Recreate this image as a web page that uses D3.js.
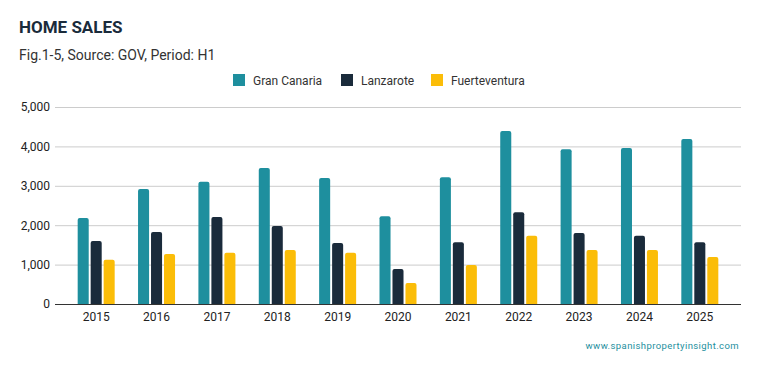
<!DOCTYPE html>
<html><head><meta charset="utf-8">
<script src="https://cdn.jsdelivr.net/npm/d3@7"></script>
<style>body{margin:0;background:#fff;}svg{display:block;font-family:Roboto,"Noto Sans",sans-serif;}</style>
</head><body>
<svg id="c" width="759" height="371"></svg>
<script>
const years = ["2015","2016","2017","2018","2019","2020","2021","2022","2023","2024","2025"];
const seriesNames = ["Gran Canaria","Lanzarote","Fuerteventura"];
const granCanaria = [2180,2920,3100,3450,3200,2230,3220,4390,3930,3960,4190];
const lanzarote = [1600,1830,2210,1980,1550,890,1570,2330,1800,1730,1570];
const fuerteventura = [1120,1270,1300,1370,1300,530,990,1730,1370,1370,1190];
const yTicks = [0,1000,2000,3000,4000,5000];
const colors = ["#1e8f9e","#1a2b3b","#fbbd08"];

(function(){
const seriesData = [granCanaria, lanzarote, fuerteventura];
const svg = d3.select("#c");
const pL = 55, pR = 741, pT = 107, pB = 304;

const x0 = d3.scaleBand().domain(years).range([66, 730]).paddingInner(0).paddingOuter(0);
const x1 = d3.scaleBand().domain(seriesNames).range([x0.bandwidth()/2 - 18.5, x0.bandwidth()/2 + 18.5]).paddingInner(0.15).paddingOuter(0);
const y = d3.scaleLinear().domain([0,5000]).range([pB, pT]);

svg.append("text").attr("x",19).attr("y",33).attr("font-size",17).attr("font-weight",700).attr("fill","#1a2b3b").text("HOME SALES");
svg.append("text").attr("x",19).attr("y",60).attr("font-size",14).attr("fill","#333").text("Fig.1-5, Source: GOV, Period: H1");

const yAxis = d3.axisLeft(y).tickValues(yTicks).tickFormat(d3.format(",")).tickSize(-(pR-pL)).tickPadding(5);
const ga = svg.append("g").attr("transform",`translate(${pL},0)`).call(yAxis);
ga.select(".domain").remove();
ga.selectAll(".tick line").attr("stroke","#cccccc");
ga.selectAll(".tick text").attr("font-size",12).attr("fill","#222").attr("font-family","Roboto,sans-serif");

const groups = svg.append("g").selectAll("g").data(years).join("g").attr("transform",d=>`translate(${x0(d)},0)`);
groups.selectAll("path").data((d,i)=>seriesNames.map((s,k)=>({s,k,v:seriesData[k][i]}))).join("path")
  .attr("fill",d=>colors[d.k])
  .attr("d",d=>{
    const xx = x1(d.s), w = x1.bandwidth(), yy = y(d.v), r = 2;
    return `M${xx},${pB}V${yy+r}Q${xx},${yy} ${xx+r},${yy}H${xx+w-r}Q${xx+w},${yy} ${xx+w},${yy+r}V${pB}Z`;
  });

const xAxis = d3.axisBottom(x0).tickSize(0).tickPadding(8);
const gx = svg.append("g").attr("transform",`translate(0,${pB})`).call(xAxis);
gx.select(".domain").remove();
gx.selectAll(".tick text").attr("font-size",12).attr("fill","#222").attr("font-family","Roboto,sans-serif");
svg.append("line").attr("x1",pL).attr("x2",pR).attr("y1",pB+0.5).attr("y2",pB+0.5).attr("stroke","#333");

const legX = [233, 341, 431];
const lg = svg.append("g").selectAll("g").data(seriesNames).join("g").attr("transform",(d,i)=>`translate(${legX[i]},74)`);
lg.append("rect").attr("width",12).attr("height",12).attr("fill",(d,i)=>colors[i]);
lg.append("text").attr("x",20).attr("y",11).attr("font-size",12).attr("fill","#333").text(d=>d);

svg.append("text").attr("x",739).attr("y",349).attr("text-anchor","end").attr("font-size",9.5).attr("letter-spacing","0.4px").attr("fill","#1e8f9e").text("www.spanishpropertyinsight.com");
})();
</script>
</body></html>
